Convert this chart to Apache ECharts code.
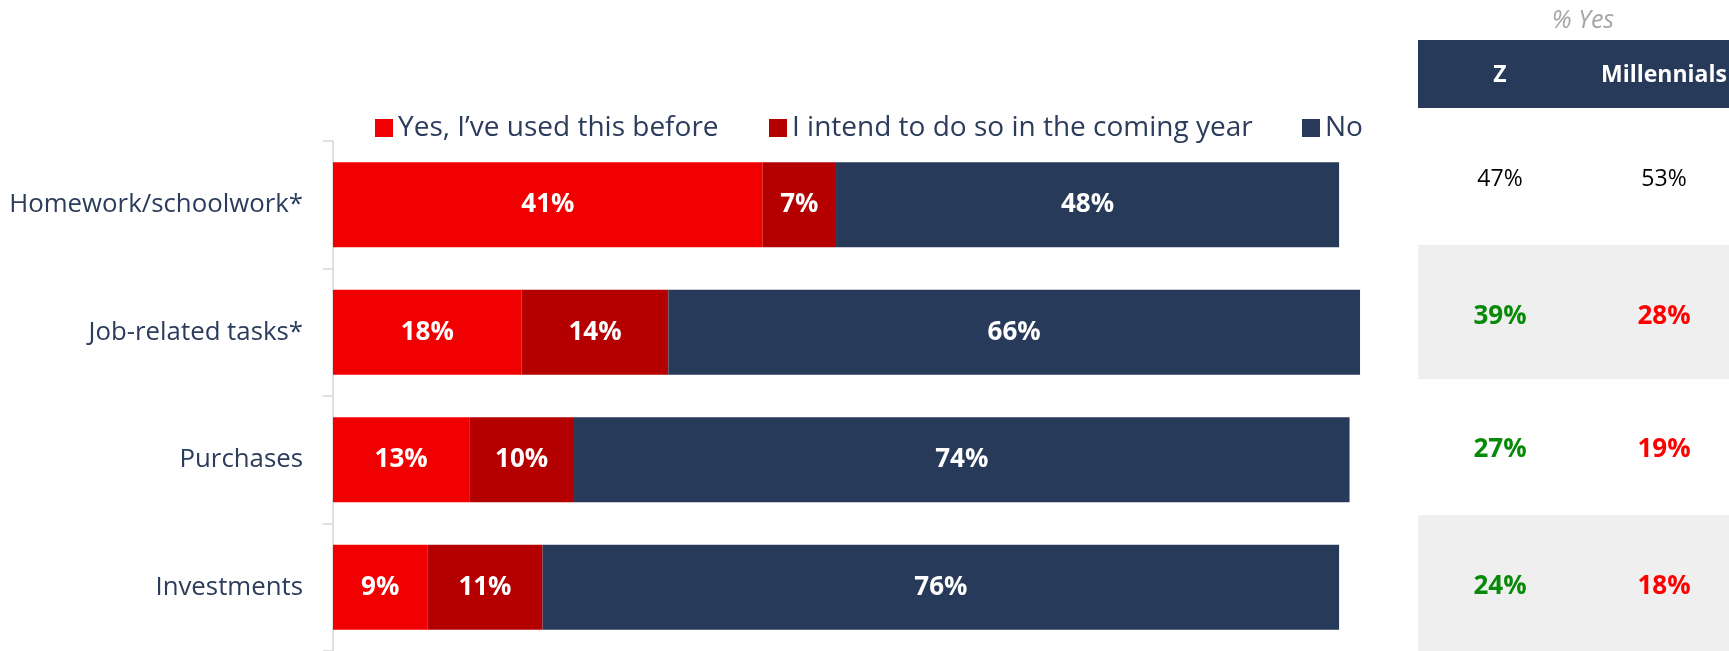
<!DOCTYPE html>
<html>
<head>
<meta charset="utf-8">
<script src="https://cdn.jsdelivr.net/npm/echarts@6/dist/echarts.min.js"></script>
<style>
  html, body { margin: 0; padding: 0; background: #ffffff; }
  #chart { width: 1729px; height: 651px; }
</style>
</head>
<body>
<div id="chart"></div>
<script>
// Survey answers per use case (percent of respondents)
const categories = ['Homework/schoolwork*', 'Job-related tasks*', 'Purchases', 'Investments'];
const usedBefore = [41, 18, 13, 9];
const intendTo = [7, 14, 10, 11];
const noAnswer = [48, 66, 74, 76];
const seriesNames = ['Yes, I\u2019ve used this before', 'I intend to do so in the coming year', 'No'];

// Side table: share answering "yes" by generation
const tableTitle = '% Yes';
const tableColumns = ['Z', 'Millennials'];
const genZYes = [47, 39, 27, 24];
const millennialsYes = [53, 28, 19, 18];

const FONT = '"Open Sans", "Liberation Sans", sans-serif';
const NAVY = '#283a59';
const RED = '#f00000';
const DARK_RED = '#b40000';
const TEXT_NAVY = '#2b3c5c';

const chart = echarts.init(document.getElementById('chart'), null, { renderer: 'canvas' });

function barSeries(name, values, color) {
  return {
    name: name,
    type: 'bar',
    stack: 'total',
    barWidth: '66.5%',
    data: values,
    itemStyle: { color: color },
    label: {
      show: true,
      position: 'inside',
      formatter: '{c}%',
      color: '#ffffff',
      fontFamily: FONT,
      fontWeight: 'bold',
      fontSize: 26
    },
    emphasis: { disabled: true }
  };
}

// Table geometry
const tableLeft = 1418;
const tableRight = 1729;
const headerTop = 40;
const headerBottom = 108;
const rowEdges = [108, 245, 379, 515, 651];
const textRows = [179, 317, 450, 587];
const colCenters = [1500, 1664];

const graphics = [];
graphics.push({
  type: 'text',
  style: {
    text: tableTitle, x: 1583, y: 21, align: 'center', verticalAlign: 'middle',
    fill: '#a6a6a6', font: 'italic 25px ' + FONT
  }
});
graphics.push({
  type: 'rect',
  shape: { x: tableLeft, y: headerTop, width: tableRight - tableLeft, height: headerBottom - headerTop },
  style: { fill: NAVY }
});
tableColumns.forEach(function (c, i) {
  graphics.push({
    type: 'text',
    style: {
      text: c, x: colCenters[i], y: (headerTop + headerBottom) / 2 + 1,
      align: 'center', verticalAlign: 'middle',
      fill: '#ffffff', font: 'bold 23px ' + FONT
    }
  });
});
for (let r = 0; r < categories.length; r++) {
  if (r % 2 === 1) {
    graphics.push({
      type: 'rect',
      shape: { x: tableLeft, y: rowEdges[r], width: tableRight - tableLeft, height: rowEdges[r + 1] - rowEdges[r] },
      style: { fill: '#efefef' }
    });
  }
  const first = r === 0;
  [genZYes[r], millennialsYes[r]].forEach(function (v, i) {
    graphics.push({
      type: 'text',
      style: {
        text: v + '%', x: colCenters[i], y: textRows[r],
        align: 'center', verticalAlign: 'middle',
        fill: first ? '#000000' : (i === 0 ? '#088a08' : '#ff0000'),
        font: (first ? '' : 'bold ') + (first ? '23px ' : '26px ') + FONT
      }
    });
  });
}

const legendLefts = [375, 769, 1302];

const option = {
  backgroundColor: '#ffffff',
  animation: false,
  textStyle: { fontFamily: FONT },
  grid: { left: 333, top: 141, width: 1048, height: 511, containLabel: false },
  legend: seriesNames.map(function (n, i) {
    return {
      data: [n],
      left: legendLefts[i],
      top: 114,
      padding: 0,
      icon: 'rect',
      itemWidth: 18,
      itemHeight: 18,
      selectedMode: false,
      textStyle: { color: TEXT_NAVY, fontSize: 28, fontFamily: FONT }
    };
  }),
  xAxis: { type: 'value', min: 0, max: 100, show: false },
  yAxis: {
    type: 'category',
    inverse: true,
    data: categories,
    axisLine: { show: true, lineStyle: { color: '#d6d6d6', width: 1.5 } },
    axisTick: { show: true, length: 10, lineStyle: { color: '#d6d6d6', width: 1.5 } },
    axisLabel: { margin: 30, color: TEXT_NAVY, fontSize: 25.8, fontFamily: FONT }
  },
  series: [
    barSeries(seriesNames[0], usedBefore, RED),
    barSeries(seriesNames[1], intendTo, DARK_RED),
    barSeries(seriesNames[2], noAnswer, NAVY)
  ],
  graphic: graphics
};

chart.setOption(option);
</script>
</body>
</html>
